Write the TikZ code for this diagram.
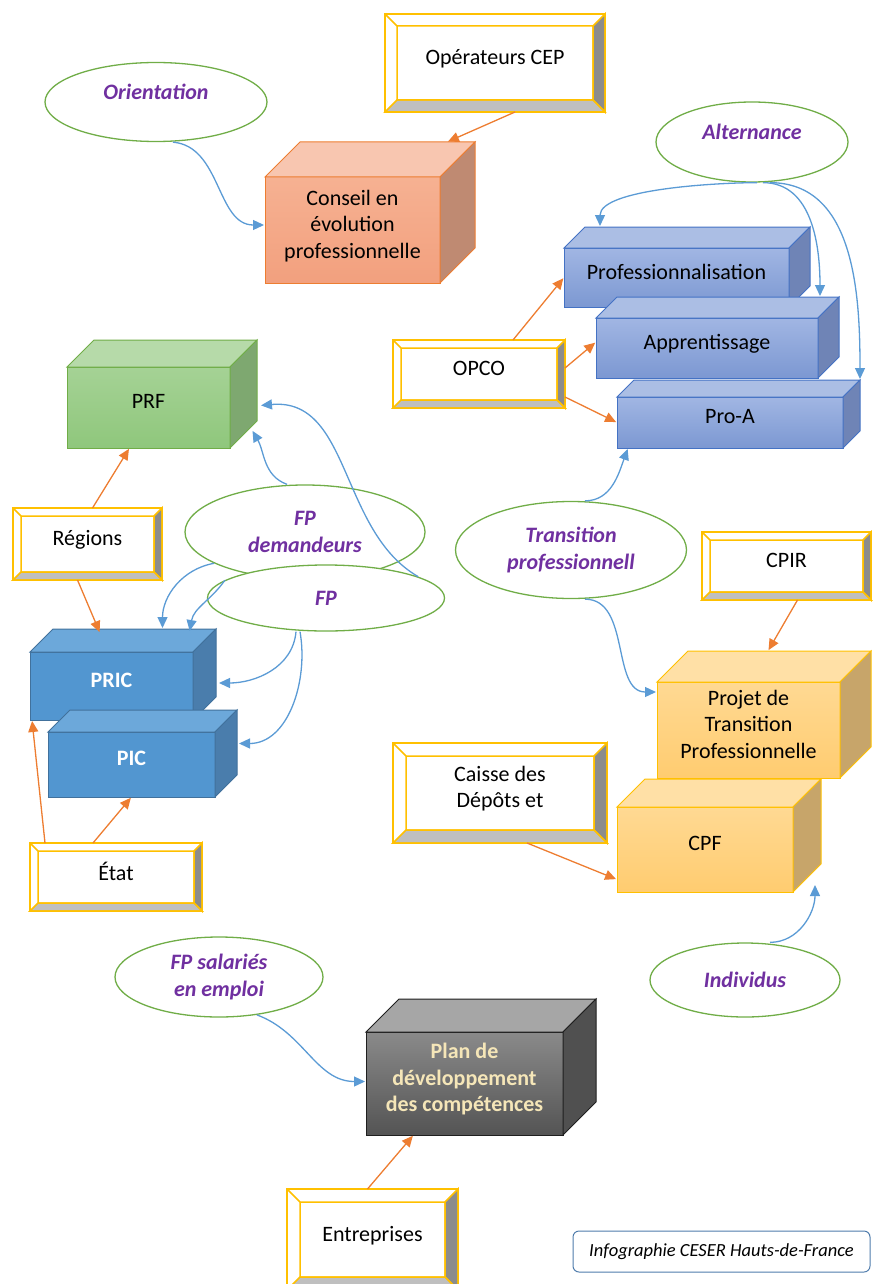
\documentclass[tikz,border=0pt]{standalone}
\usepackage{fontspec}
\setmainfont{Carlito}
\usepackage{tikz}
\usetikzlibrary{arrows.meta,shapes.geometric,calc}

\definecolor{goldline}{HTML}{FFC000}
\definecolor{bevelgrey}{HTML}{BFBFBF}
\definecolor{beveldark}{HTML}{8C8C8C}
\definecolor{orangeline}{HTML}{ED7D31}
\definecolor{blueline}{HTML}{5B9BD5}
\definecolor{ovalgreen}{HTML}{70AD47}
\definecolor{ovaltext}{HTML}{7030A0}
\definecolor{captionline}{HTML}{4F7CAC}
\definecolor{plantext}{HTML}{F5E6B8}

\tikzset{
  block/.style={outer sep=0pt, inner sep=2pt, line width=1pt, align=center, text depth=12pt},
  salmon/.style={block, draw=orangeline, top color={rgb,255:red,246;green,177;blue,146}, bottom color={rgb,255:red,242;green,160;blue,126}},
  salmon top/.style={draw=orangeline, line width=1pt, fill={rgb,255:red,248;green,198;blue,176}},
  salmon side/.style={draw=orangeline, line width=1pt, fill={rgb,255:red,191;green,138;blue,114}},
  leaf/.style={block, draw=ovalgreen, top color={rgb,255:red,165;green,210;blue,149}, bottom color={rgb,255:red,143;green,199;blue,124}},
  leaf top/.style={draw=ovalgreen, line width=1pt, fill={rgb,255:red,182;green,218;blue,169}},
  leaf side/.style={draw=ovalgreen, line width=1pt, fill={rgb,255:red,126;green,168;blue,112}},
  periwinkle/.style={block, draw={rgb,255:red,68;green,114;blue,196}, top color={rgb,255:red,161;green,182;blue,227}, bottom color={rgb,255:red,124;green,152;blue,210}},
  periwinkle top/.style={draw={rgb,255:red,68;green,114;blue,196}, line width=1pt, fill={rgb,255:red,171;green,190;blue,228}},
  periwinkle side/.style={draw={rgb,255:red,68;green,114;blue,196}, line width=1pt, fill={rgb,255:red,111;green,132;blue,182}},
  steel/.style={block, draw={rgb,255:red,65;green,113;blue,156}, fill={rgb,255:red,82;green,150;blue,208}, text=white, font=\fontsize{22}{26.5}\selectfont\bfseries},
  steel top/.style={draw={rgb,255:red,65;green,113;blue,156}, line width=1pt, fill={rgb,255:red,108;green,168;blue,218}},
  steel side/.style={draw={rgb,255:red,65;green,113;blue,156}, line width=1pt, fill={rgb,255:red,74;green,125;blue,172}},
  amber/.style={block, draw=goldline, top color={rgb,255:red,255;green,217;blue,147}, bottom color={rgb,255:red,255;green,204;blue,112}},
  amber top/.style={draw=goldline, line width=1pt, fill={rgb,255:red,255;green,224;blue,166}},
  amber side/.style={draw=goldline, line width=1pt, fill={rgb,255:red,199;green,165;blue,106}},
  slate/.style={block, draw={rgb,255:red,31;green,31;blue,31}, top color={rgb,255:red,138;green,138;blue,138}, bottom color={rgb,255:red,84;green,84;blue,84}, text=plantext, font=\fontsize{22}{26.5}\selectfont\bfseries},
  slate top/.style={draw={rgb,255:red,31;green,31;blue,31}, line width=1pt, fill={rgb,255:red,166;green,166;blue,166}},
  slate side/.style={draw={rgb,255:red,31;green,31;blue,31}, line width=1pt, fill={rgb,255:red,80;green,80;blue,80}},
  frame/.style={draw=goldline, line width=1.5pt, fill=white, outer sep=0pt, align=center, text depth=12pt},
  bevel side/.style={draw=goldline, line width=1.5pt, fill=beveldark},
  bevel base/.style={draw=goldline, line width=1.5pt, fill=bevelgrey},
  bevel line/.style={draw=goldline, line width=1.5pt},
  oval/.style={ellipse, draw=ovalgreen, line width=1.3pt, fill=white, text=ovaltext, inner sep=0pt, align=center, font=\fontsize{22}{26.5}\selectfont\bfseries\itshape},
  raised/.style={text depth=20pt},
  feed/.style={->, color=orangeline, line width=1.3pt},
  flow/.style={->, color=blueline, line width=1.3pt},
  credit/.style={draw=captionline, line width=1pt, rounded corners=6pt, fill=white, font=\fontsize{18.5}{22}\selectfont\itshape}
}

\newcommand{\boxfaces}[3]{%
  \coordinate (#1-tl) at ([shift={(#2,#2)}]#1.north west);
  \coordinate (#1-tr) at ([shift={(#2,#2)}]#1.north east);
  \coordinate (#1-br) at ([shift={(#2,#2)}]#1.south east);
  \filldraw[#3 top] (#1.north west) -- (#1-tl) -- (#1-tr) -- (#1.north east) -- cycle;
  \filldraw[#3 side] (#1.north east) -- (#1-tr) -- (#1-br) -- (#1.south east) -- cycle;
}

\newcommand{\bevelframe}[2]{%
  \coordinate (#1-a) at ([shift={(#2,-#2)}]#1.north west);
  \coordinate (#1-b) at ([shift={(-#2,-#2)}]#1.north east);
  \coordinate (#1-c) at ([shift={(-#2,#2)}]#1.south east);
  \coordinate (#1-d) at ([shift={(#2,#2)}]#1.south west);
  \filldraw[bevel side] (#1.north east) -- (#1-b) -- (#1-c) -- (#1.south east) -- cycle;
  \filldraw[bevel base] (#1.south west) -- (#1-d) -- (#1-c) -- (#1.south east) -- cycle;
  \draw[bevel line] (#1.north west) -- (#1-a) (#1-a) rectangle (#1-c) (#1.north west) rectangle (#1.south east);
}

\begin{document}
\begin{tikzpicture}[x=1pt, y=1pt, >={Triangle[length=11pt,width=10pt]}, shorten >=1pt, font=\fontsize{22}{26.5}\selectfont]
   \useasboundingbox (0,0) rectangle (873,-1284);

   \node[oval, raised, minimum width=222pt, minimum height=79pt] (orient)   at (156,-102) {Orientation};
   \node[oval, raised, minimum width=192pt, minimum height=80pt] (altern)   at (752,-142) {Alternance};
   \node[oval, minimum width=240pt, minimum height=94pt]         (fpdem)    at (305,-532) {FP\\demandeurs};
   \node[oval, minimum width=237pt, minimum height=66pt]         (fp)       at (326,-598) {FP};
   \node[oval, minimum width=231pt, minimum height=97pt]         (trans)    at (571,-550) {Transition\\professionnell};
   \node[oval, minimum width=190pt, minimum height=74pt]         (indiv)    at (745,-980) {Individus};
   \node[oval, minimum width=208pt, minimum height=80pt]         (salaries) at (219,-977) {FP salariés\\en emploi};

   \node[salmon, minimum width=175pt, minimum height=106pt] (conseil) at (352.5,-230) {Conseil en\\évolution\\professionnelle};
   \boxfaces{conseil}{35}{salmon}
   \node[leaf, minimum width=163pt, minimum height=81pt] (prf) at (148.5,-407.5) {PRF};
   \boxfaces{prf}{27}{leaf}
   \node[periwinkle, minimum width=225pt, minimum height=59pt] (profess) at (676.5,-277.5) {Professionnalisation};
   \boxfaces{profess}{21}{periwinkle}
   \node[periwinkle, minimum width=222pt, minimum height=60pt] (apprent) at (707,-348) {Apprentissage};
   \boxfaces{apprent}{21}{periwinkle}
   \node[periwinkle, minimum width=226pt, minimum height=51pt] (proa) at (730,-422.5) {Pro-A};
   \boxfaces{proa}{17}{periwinkle}
   \node[steel, minimum width=163pt, minimum height=68pt] (pric) at (111.5,-686) {PRIC};
   \boxfaces{pric}{23}{steel}
   \node[steel, minimum width=167pt, minimum height=65pt] (pic) at (131.5,-764.5) {PIC};
   \boxfaces{pic}{22}{steel}
   \node[amber, minimum width=183pt, minimum height=96pt] (projet) at (748.5,-730) {Projet de\\Transition\\Professionnelle};
   \boxfaces{projet}{31}{amber}
   \node[amber, minimum width=176pt, minimum height=85pt] (cpf) at (705,-849.5) {CPF};
   \boxfaces{cpf}{28}{amber}
   \node[slate, minimum width=197pt, minimum height=103pt] (plan) at (464.5,-1083.5) {Plan de\\développement\\des compétences};
   \boxfaces{plan}{33}{slate}

   \node[frame, minimum width=220pt, minimum height=98pt]  (cep)     at (495,-63)     {Opérateurs CEP};
   \bevelframe{cep}{12}
   \node[frame, minimum width=172pt, minimum height=68pt]  (opco)    at (479,-374)    {OPCO};
   \bevelframe{opco}{8}
   \node[frame, minimum width=149pt, minimum height=72pt]  (regions) at (87.5,-544)   {Régions};
   \bevelframe{regions}{8}
   \node[frame, minimum width=172pt, minimum height=68pt]  (etat)    at (116,-877)    {État};
   \bevelframe{etat}{8}
   \node[frame, minimum width=169pt, minimum height=68pt]  (cpir)    at (786.5,-566)  {CPIR};
   \bevelframe{cpir}{8}
   \node[frame, minimum width=214pt, minimum height=100pt] (caisse)  at (500,-793)    {Caisse des\\Dépôts et};
   \bevelframe{caisse}{13}
   \node[frame, minimum width=171pt, minimum height=101pt] (entrep)  at (372.5,-1239.5) {Entreprises};
   \bevelframe{entrep}{13}

   \path[feed]
    ([xshift=20pt]cep.south)      edge ($(conseil-tl)!0.84!(conseil-tr)$)
    ([xshift=34pt]opco.north)     edge (profess.west)
    ([yshift=6pt]opco.east)       edge ([yshift=6pt]apprent.west)
    ([yshift=11pt]opco.south east) edge (proa.west)
    ([xshift=5pt]regions.north)   edge ([xshift=-19pt]prf.south)
    ([xshift=-10pt]regions.south) edge ([shift={(-11.5,19)}]pric.north)
    ([xshift=-71pt]etat.north)    edge ([xshift=2pt]pric.south west)
    ([xshift=-23pt]etat.north)    edge (pic.south)
    ([xshift=11pt]cpir.south)     edge ([shift={(19.5,31)}]projet.north)
    ([xshift=27pt]caisse.south)   edge ([yshift=-30pt]cpf.west)
    ([xshift=-5pt]entrep.north)   edge ([xshift=-51pt]plan.south);

   \path[flow]
    ([xshift=17pt]orient.south)   edge[out=-5,in=180] ([yshift=5pt]conseil.west)
    ([xshift=5pt]altern.south)    edge[out=180,in=90,looseness=0.6] ([shift={(36,21)}]profess.north west)
    ([xshift=11pt]altern.south)   edge[out=0,in=90] ([shift={(113,21)}]apprent.north)
    ([xshift=18pt]altern.south)   edge[out=0,in=90] (proa-tr)
    ([xshift=14pt]trans.north)    edge[out=0,in=-110] ([xshift=-102pt]proa.south)
    ([xshift=14pt]trans.south)    edge[out=0,in=180] ([yshift=38pt]projet.west)
    ([xshift=25pt]indiv.north)    edge[out=0,in=-90] ([shift={(22,8)}]cpf.south east)
    (salaries.-45)                edge[out=-20,in=180] ([yshift=2pt]plan.west)
    ([xshift=-18pt]fpdem.north)   edge[out=160,in=-60] ([shift={(22,18)}]prf.south east)
    (fp.13)                       edge[out=150,in=5] ([shift={(30,2)}]prf.east)
    (fpdem.199)                   edge[out=190,in=90] ([shift={(51,23)}]pric.north)
    (fp.170)                      edge[out=235,in=80] ([shift={(78,20)}]pric.north)
    ([xshift=-30pt]fp.south)      edge[out=-95,in=0] ([shift={(25,3)}]pric.east)
    ([xshift=-26pt]fp.south)      edge[out=-80,in=0] ([shift={(23,21)}]pic.east);

   \node[credit, minimum width=297pt, minimum height=41pt] (credit) at (721.5,-1251.5) {Infographie CESER Hauts-de-France};
\end{tikzpicture}
\end{document}
